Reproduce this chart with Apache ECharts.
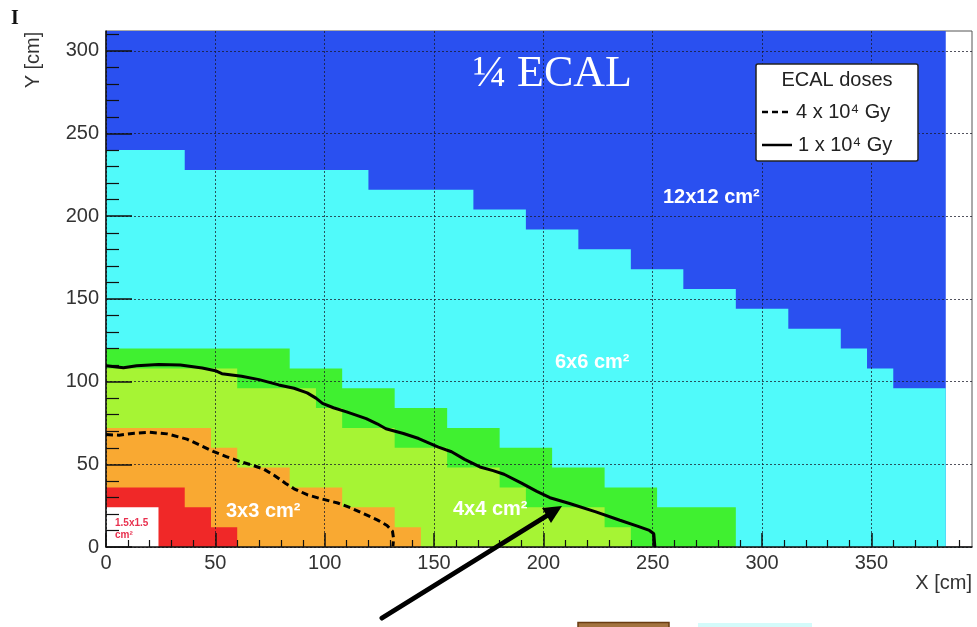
<!DOCTYPE html>
<html><head><meta charset="utf-8">
<script src="https://cdn.jsdelivr.net/npm/echarts@6/dist/echarts.min.js"></script>
<style>html,body{margin:0;padding:0;background:#fff}#c{width:977px;height:627px}</style>
</head><body><div id="c"></div>
<script>
// ---- axis ticks / labels ----
const xTickValues = [0, 50, 100, 150, 200, 250, 300, 350];
const xMinorTicks = [10,20,30,40,60,70,80,90,110,120,130,140,160,170,180,190,210,220,230,240,260,270,280,290,310,320,330,340,360,370,380,390];
const yTickValues = [0, 50, 100, 150, 200, 250, 300];
const yMinorTicks = [10,20,30,40,60,70,80,90,110,120,130,140,160,170,180,190,210,220,230,240,260,270,280,290,310];

// ---- cell-size regions: bin edges in X [cm] and top Y [cm] of each bin ----
const blueEdges   = [0, 384];
const blueTops    = [312];
const cyanEdges   = [0, 36, 120, 168, 192, 216, 240, 264, 288, 312, 336, 348, 360, 384];
const cyanTops    = [240, 228, 216, 204, 192, 180, 168, 156, 144, 132, 120, 108, 96];
const greenEdges  = [0, 84, 108, 132, 156, 180, 204, 228, 252, 288];
const greenTops   = [120, 108, 96, 84, 72, 60, 48, 36, 24];
const lightEdges  = [0, 60, 96, 108, 132, 156, 180, 192, 228, 240];
const lightTops   = [108, 96, 84, 72, 60, 48, 36, 24, 12];
const orangeEdges = [0, 48, 60, 84, 108, 132, 144];
const orangeTops  = [72, 60, 48, 36, 24, 12];
const redEdges    = [0, 36, 48, 60];
const redTops     = [36, 24, 12];
const whiteEdges  = [0, 24];
const whiteTops   = [24];

// ---- dose contours [X, Y] in cm ----
const dose4e4 = [[0,68],[6,67.6],[13,68.8],[20,69.4],[28,68.4],[37,65.2],[43,61.6],[49,57.8],[55,54.6],[61,51.8],[67,49.4],[72,47.2],[77,43.2],[82,38.6],[86,35.2],[92,31.6],[98,29.3],[106,26.6],[112,23.6],[118,20],[124,16.4],[128.5,13],[131,9.5],[131.5,5],[131.2,0.5]];
const dose1e4 = [[0,109.6],[8,108.4],[14,109.6],[24,110.4],[34,110],[44,108.2],[50,106.6],[53,104.8],[62,103.2],[70,101.2],[79,98],[86,96],[92,93.2],[96,90],[99,86.8],[104,84.2],[110,81.7],[119,77.6],[124,74.5],[128,71.5],[136,68.6],[143,65.6],[152,60.4],[158,57.6],[164,53],[171,48.4],[177,46.2],[182,44],[190,38.6],[197,33.6],[203,29.8],[212,26.3],[224,21.2],[235,16.2],[243,12.6],[248.5,10],[250.5,8],[251,0]];

function stepData(edges, tops) {
  return edges.map((e, i) => [e, tops[Math.min(i, tops.length - 1)]]);
}
function region(name, edges, tops, color) {
  return {
    name: name, type: 'line', step: 'end', data: stepData(edges, tops),
    symbol: 'none', lineStyle: { opacity: 0 }, areaStyle: { color: color, opacity: 1 },
    z: 1, silent: true, animation: false
  };
}

const SANS = '"Liberation Sans", Arial, sans-serif';
const chart = echarts.init(document.getElementById('c'), null, { renderer: 'canvas' });

const option = {
  animation: false,
  backgroundColor: '#fff',
  grid: { left: 106, right: 5, top: 31, bottom: 80, show: true, borderColor: '#555', borderWidth: 1, backgroundColor: 'transparent' },
  xAxis: [
    {
      type: 'value', min: 0, max: 396, interval: 50, z: 2,
      axisLine: { show: true, onZero: false, lineStyle: { color: '#111', width: 1.5 } },
      axisTick: { show: true, inside: true, length: 14, customValues: xTickValues, lineStyle: { color: '#111', width: 1.5 } },
      axisLabel: { customValues: xTickValues, color: '#333', fontSize: 20, fontFamily: SANS, margin: 6 },
      splitLine: { show: true, lineStyle: { color: '#1a1a2a', width: 1, type: [2, 2], opacity: 0.75 } },
      minorTick: { show: false }
    },
    {
      type: 'value', min: 0, max: 396, position: 'bottom', z: 2,
      axisLine: { show: false }, axisLabel: { show: false }, splitLine: { show: false },
      axisTick: { show: true, inside: true, length: 7, customValues: xMinorTicks, lineStyle: { color: '#111', width: 1.2 } }
    }
  ],
  yAxis: [
    {
      type: 'value', min: 0, max: 312, interval: 50, z: 2,
      axisLine: { show: true, onZero: false, lineStyle: { color: '#111', width: 1.5 } },
      axisTick: { show: true, inside: true, length: 26, customValues: yTickValues, lineStyle: { color: '#111', width: 1.5 } },
      axisLabel: { customValues: yTickValues, color: '#333', fontSize: 20, fontFamily: SANS, margin: 7 },
      splitLine: { show: true, lineStyle: { color: '#1a1a2a', width: 1, type: [2, 2], opacity: 0.75 } },
      minorTick: { show: false }
    },
    {
      type: 'value', min: 0, max: 312, position: 'left', z: 2,
      axisLine: { show: false }, axisLabel: { show: false }, splitLine: { show: false },
      axisTick: { show: true, inside: true, length: 13, customValues: yMinorTicks, lineStyle: { color: '#111', width: 1.2 } }
    }
  ],
  series: [
    region('12x12 cm²', blueEdges, blueTops, '#2a50f0'),
    region('6x6 cm²', cyanEdges, cyanTops, '#50fafa'),
    region('4x4 cm² (outer)', greenEdges, greenTops, '#40f030'),
    region('4x4 cm²', lightEdges, lightTops, '#a6f434'),
    region('3x3 cm²', orangeEdges, orangeTops, '#f9a932'),
    region('1.5x1.5 cm² zone', redEdges, redTops, '#f02828'),
    region('1.5x1.5 cm²', whiteEdges, whiteTops, '#ffffff'),
    {
      name: '4 x 10⁴ Gy', type: 'line', data: dose4e4, symbol: 'none', z: 5, silent: true,
      lineStyle: { color: '#000', width: 3, type: [7, 4] }
    },
    {
      name: '1 x 10⁴ Gy', type: 'line', data: dose1e4, symbol: 'none', z: 5, silent: true,
      lineStyle: { color: '#000', width: 3 }
    }
  ],
  graphic: [
    { type: 'text', z: 50, style: { text: 'I', x: 15, y: 29, textAlign: 'center', textVerticalAlign: 'bottom', font: 'bold 20px "Liberation Serif", serif', fill: '#111' } },
    { type: 'text', z: 50, x: 33, y: 60, rotation: Math.PI / 2, style: { text: 'Y [cm]', x: 0, y: 0, textAlign: 'center', textVerticalAlign: 'middle', font: '20px ' + SANS, fill: '#333' } },
    { type: 'text', z: 50, style: { text: 'X [cm]', x: 972, y: 583, textAlign: 'right', textVerticalAlign: 'middle', font: '20px ' + SANS, fill: '#333' } },
    { type: 'text', z: 50, style: { text: '¼ ECAL', x: 473, y: 74, textAlign: 'left', textVerticalAlign: 'middle', font: '44px "Liberation Serif", "Times New Roman", serif', fill: '#fff' } },
    { type: 'text', z: 50, style: { text: '12x12 cm²', x: 663, y: 197, textAlign: 'left', textVerticalAlign: 'middle', font: 'bold 20px ' + SANS, fill: '#fff' } },
    { type: 'text', z: 50, style: { text: '6x6 cm²', x: 555, y: 362, textAlign: 'left', textVerticalAlign: 'middle', font: 'bold 20px ' + SANS, fill: '#fff' } },
    { type: 'text', z: 50, style: { text: '4x4 cm²', x: 453, y: 509, textAlign: 'left', textVerticalAlign: 'middle', font: 'bold 20px ' + SANS, fill: '#fff' } },
    { type: 'text', z: 50, style: { text: '3x3 cm²', x: 226, y: 511, textAlign: 'left', textVerticalAlign: 'middle', font: 'bold 20px ' + SANS, fill: '#fff' } },
    { type: 'text', z: 50, style: { text: '1.5x1.5', x: 115, y: 523.5, textAlign: 'left', textVerticalAlign: 'middle', font: 'bold 10px ' + SANS, fill: '#e8304e' } },
    { type: 'text', z: 50, style: { text: 'cm²', x: 115, y: 535.5, textAlign: 'left', textVerticalAlign: 'middle', font: 'bold 10px ' + SANS, fill: '#e8304e' } },
    // legend box
    { type: 'rect', z: 100, shape: { x: 756, y: 64, width: 162, height: 97, r: 2 }, style: { fill: '#fff', stroke: '#222', lineWidth: 1.5 } },
    { type: 'text', z: 101, style: { text: 'ECAL doses', x: 837, y: 80, textAlign: 'center', textVerticalAlign: 'middle', font: '20px ' + SANS, fill: '#222' } },
    { type: 'line', z: 101, shape: { x1: 762, y1: 112, x2: 792, y2: 112 }, style: { stroke: '#000', lineWidth: 2.5, lineDash: [6, 4] } },
    { type: 'text', z: 101, style: { text: '4 x 10⁴ Gy', x: 796, y: 112, textAlign: 'left', textVerticalAlign: 'middle', font: '20px ' + SANS, fill: '#222' } },
    { type: 'line', z: 101, shape: { x1: 762, y1: 145, x2: 792, y2: 145 }, style: { stroke: '#000', lineWidth: 2.5 } },
    { type: 'text', z: 101, style: { text: '1 x 10⁴ Gy', x: 798, y: 145, textAlign: 'left', textVerticalAlign: 'middle', font: '20px ' + SANS, fill: '#222' } },
    // arrow
    { type: 'line', z: 60, shape: { x1: 382, y1: 618, x2: 548, y2: 515 }, style: { stroke: '#000', lineWidth: 5, lineCap: 'round' } },
    { type: 'polygon', z: 60, shape: { points: [[562, 506], [551, 523], [542, 508]] }, style: { fill: '#000' } },
    // partial elements at bottom edge
    { type: 'rect', z: 40, shape: { x: 578, y: 622.5, width: 91, height: 8 }, style: { fill: '#a3733f', stroke: '#6a3c12', lineWidth: 1.5 } },
    { type: 'rect', z: 40, shape: { x: 698, y: 623, width: 114, height: 8 }, style: { fill: '#d4fbfb' } }
  ]
};
chart.setOption(option);
</script>
</body></html>
